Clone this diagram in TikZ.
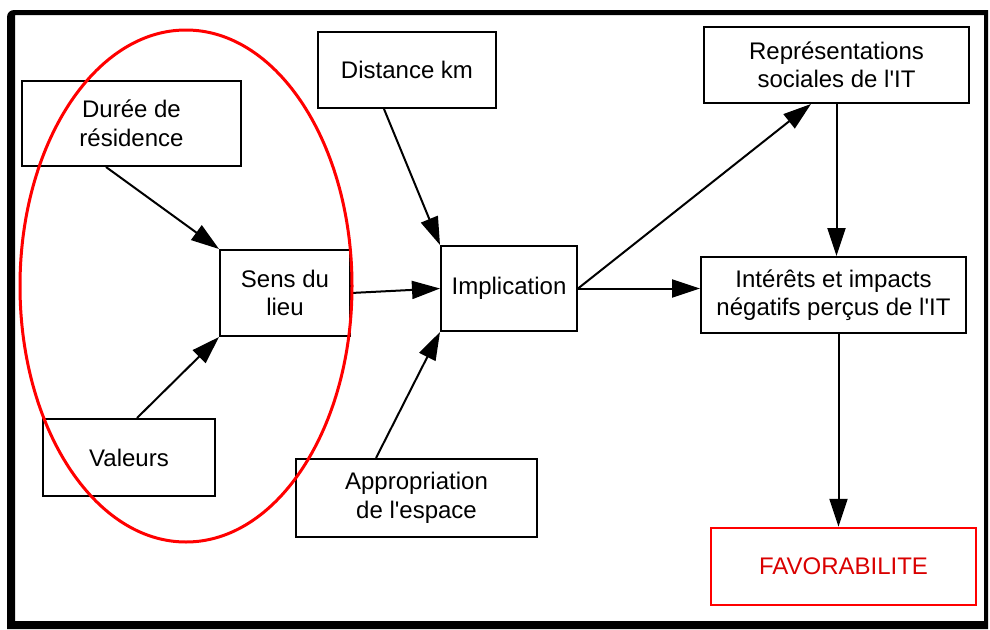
\documentclass[tikz,border=0pt]{standalone}
\usepackage{fontspec}
\setmainfont{Liberation Sans}
\usetikzlibrary{arrows.meta}
\begin{document}
\begin{tikzpicture}[x=1pt,y=-1pt,
  box/.style={draw, line width=2pt, rectangle, align=center, inner sep=0pt,
    font=\fontsize{24}{28.5}\selectfont},
  redbox/.style={box, draw=red, line width=2.5pt, text=red!85!black},
  arr/.style={line width=2pt, -{Triangle[length=28pt,width=18pt]}}]
\useasboundingbox (0,0) rectangle (990,629);
% frame
\fill[black, even odd rule] (7,629) [rounded corners=7pt] -- (7,10) [sharp corners] -- (988,10) -- (988,629) -- cycle
  (15,15) rectangle (984,621);
% boxes
\node[box, minimum width=219pt, minimum height=85pt] (dur) at (131.5,123.5) {Durée de\\résidence};
\node[box, minimum width=178pt, minimum height=76pt] (dist) at (407,70) {Distance km};
\node[box, minimum width=130pt, minimum height=86pt] (sens) at (285,293) {Sens du\\lieu};
\node[box, minimum width=136pt, minimum height=85pt] (impl) at (509,288.5) {Implication};
\node[box, minimum width=172pt, minimum height=77pt] (val) at (129,457.5) {Valeurs};
\node[box, minimum width=241pt, minimum height=78pt] (appr) at (416.5,498) {Appropriation\\de l\textquotesingle espace};
\node[box, minimum width=265pt, minimum height=76pt] (repr) at (836.5,65) {Représentations\\sociales de l\textquotesingle IT};
\node[box, minimum width=265pt, minimum height=76pt] (inter) at (833.5,295) {Intérêts et impacts\\négatifs perçus de l\textquotesingle IT};
\node[redbox, minimum width=265pt, minimum height=77pt] (fav) at (843.5,566.5) {FAVORABILITE};
% connector anchors
\coordinate (durS) at ([xshift=85pt]dur.south west);
\coordinate (valN) at ([xshift=95pt]val.north west);
\coordinate (distS) at ([xshift=67pt]dist.south west);
\coordinate (apprN) at ([xshift=81pt]appr.north west);
\coordinate (reprS) at ([xshift=108pt]repr.south west);
\coordinate (interS) at ([xshift=5pt]inter.south);
% connectors
\draw[arr] (durS) -- (sens.north west);
\draw[arr] (valN) -- (sens.south west);
\draw[arr] (sens.east) -- (impl.west);
\draw[arr] (distS) -- (impl.north west);
\draw[arr] (apprN) -- (impl.south west);
\draw[arr] (impl.east) -- (reprS);
\draw[arr] (impl.east) -- (impl.east -| inter.west);
\draw[arr] (repr.south) -- (repr.south |- inter.north);
\draw[arr] (interS) -- (interS |- fav.north);
% ellipse
\draw[red, line width=3pt] (186,286) ellipse [x radius=166pt, y radius=256pt];
\end{tikzpicture}
\end{document}
